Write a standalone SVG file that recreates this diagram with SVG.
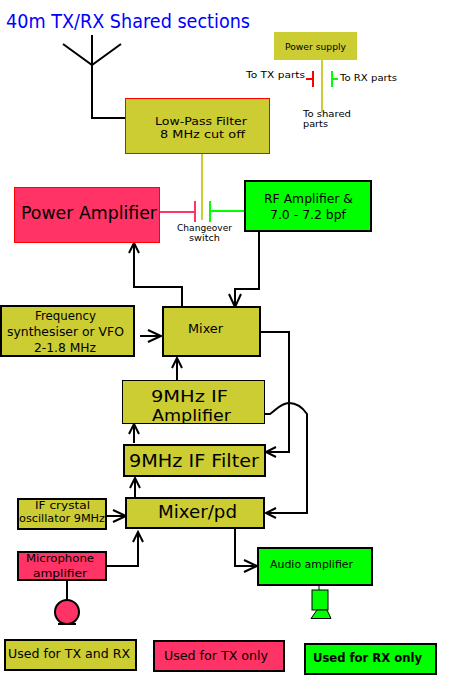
<svg xmlns="http://www.w3.org/2000/svg" width="450" height="700" viewBox="0 0 450 700">
<style>
text{font-family:"DejaVu Sans","Open Sans",sans-serif;fill:#000}
.olive{fill:#cccc33}.pink{fill:#ff3366}.green{fill:#00ff00}
.k1{stroke:#000;stroke-width:1}.k2{stroke:#000;stroke-width:2}.r1{stroke:#ff0000;stroke-width:1}
.w{fill:none;stroke:#000;stroke-width:2}
.a{marker-end:url(#big)}.b{marker-end:url(#small)}
.ol{fill:none;stroke:#cccc33;stroke-width:2}.rd{fill:none;stroke:#ff0000;stroke-width:2}.pk{fill:none;stroke:#ff3366;stroke-width:2}.gn{fill:none;stroke:#00ff00;stroke-width:2}
</style>
<defs>
<marker id="big" markerUnits="userSpaceOnUse" markerWidth="18" markerHeight="18" refX="14" refY="8" orient="auto" overflow="visible"><path d="M1 2L14 8L1 14" fill="none" stroke="#000" stroke-width="2"/></marker>
<marker id="small" markerUnits="userSpaceOnUse" markerWidth="14" markerHeight="14" refX="11" refY="7" orient="auto" overflow="visible"><path d="M1 2L11 7L1 12" fill="none" stroke="#000" stroke-width="2"/></marker>
</defs>
<rect width="450" height="700" fill="#fff"/>
<text id="title" x="6" y="28" font-size="19" textLength="244" lengthAdjust="spacingAndGlyphs" style="fill:#0000ff">40m TX/RX Shared sections</text>
<g id="connectors">
<path class="w" d="M92 35V118H125M63 44L92 65L121 44"/>
<path class="ol" d="M202 153V220"/>
<path class="ol" d="M322 60V112"/>
<path class="rd" d="M313 71V87M313 79H306"/>
<path class="gn" d="M332 71V87M332 79H338"/>
<path class="pk" d="M159 212H195M195 201V222"/>
<path class="gn" d="M245 211H210M210 201V222"/>
<path class="w a" d="M259 231V289H235V307"/>
<path class="w b" d="M182 307V287H134V243"/>
<path class="w a" d="M140 336H161"/>
<path class="w b" d="M177 380V358"/>
<path class="w b" d="M134 443V424"/>
<path class="w b" d="M135 498V478"/>
<path class="w b" d="M260 332H289V452H266"/>
<path class="w b" d="M264 414H270C276 410 281 403 289 403C298 403 303 408 307 414V513H266"/>
<path class="w a" d="M106 516H126"/>
<path class="w b" d="M106 566H138V532"/>
<path class="w a" d="M235 528V566H257"/>
<path class="w" d="M67 580V600"/>
<path class="k1" d="M319 585V590"/>
</g>
<g id="lpf"><rect class="olive r1" x="125.500" y="98.500" width="144" height="55"/><text x="155" y="125" font-size="11" textLength="92" lengthAdjust="spacingAndGlyphs">Low-Pass Filter</text><text x="160" y="138" font-size="11" textLength="85" lengthAdjust="spacingAndGlyphs">8 MHz cut off</text></g>
<g id="power-supply"><rect class="olive" x="274" y="32" width="83" height="28"/><text x="285" y="50" font-size="9.500" textLength="61" lengthAdjust="spacingAndGlyphs">Power supply</text></g>
<g id="labels">
<text x="246" y="78" font-size="9.500" textLength="59" lengthAdjust="spacingAndGlyphs">To TX parts</text>
<text x="340" y="81" font-size="9.500" textLength="57" lengthAdjust="spacingAndGlyphs">To RX parts</text>
<text x="303" y="117" font-size="8.500" textLength="48" lengthAdjust="spacingAndGlyphs">To shared</text>
<text x="303" y="127" font-size="8.500" textLength="25" lengthAdjust="spacingAndGlyphs">parts</text>
<text x="177" y="231" font-size="8.500" textLength="55" lengthAdjust="spacingAndGlyphs">Changeover</text>
<text x="189" y="241" font-size="8.500" textLength="31" lengthAdjust="spacingAndGlyphs">switch</text>
</g>
<g id="power-amp"><rect class="pink r1" x="14.500" y="187.500" width="145" height="55"/><text x="21" y="219" font-size="17" textLength="136" lengthAdjust="spacingAndGlyphs">Power Amplifier</text></g>
<g id="rf-amp"><rect class="green k2" x="245" y="181" width="126" height="50"/><text x="264" y="203" font-size="12.500" textLength="89" lengthAdjust="spacingAndGlyphs">RF Amplifier &amp;</text><text x="270" y="219" font-size="12.500" textLength="76" lengthAdjust="spacingAndGlyphs">7.0 - 7.2 bpf</text></g>
<g id="mixer"><rect class="olive k2" x="163" y="307" width="97" height="49"/><text x="188" y="333" font-size="12" textLength="35" lengthAdjust="spacingAndGlyphs">Mixer</text></g>
<g id="vfo"><rect class="olive k2" x="1" y="306" width="133" height="50"/><text x="35" y="320" font-size="12" textLength="61" lengthAdjust="spacingAndGlyphs">Frequency</text><text x="7" y="336" font-size="12" textLength="117" lengthAdjust="spacingAndGlyphs">synthesiser or VFO</text><text x="34" y="352" font-size="12" textLength="62" lengthAdjust="spacingAndGlyphs">2-1.8 MHz</text></g>
<g id="if-amp"><rect class="olive k1" x="122.500" y="380.500" width="142" height="43"/><text x="151" y="402" font-size="16" textLength="77" lengthAdjust="spacingAndGlyphs">9MHz IF</text><text x="152" y="421" font-size="16" textLength="79" lengthAdjust="spacingAndGlyphs">Amplifier</text></g>
<g id="if-filter"><rect class="olive k2" x="124" y="445" width="141" height="31"/><text x="129" y="467" font-size="17" textLength="130" lengthAdjust="spacingAndGlyphs">9MHz IF Filter</text></g>
<g id="mixer-pd"><rect class="olive k2" x="126" y="498" width="138" height="30"/><text x="158" y="518" font-size="17" textLength="79" lengthAdjust="spacingAndGlyphs">Mixer/pd</text></g>
<g id="crystal"><rect class="olive k2" x="18" y="499" width="88" height="30"/><text x="35" y="509" font-size="10" textLength="55" lengthAdjust="spacingAndGlyphs">IF crystal</text><text x="19" y="522" font-size="10" textLength="86" lengthAdjust="spacingAndGlyphs">oscillator 9MHz</text></g>
<g id="mic-amp"><rect class="pink k2" x="18" y="552" width="88" height="28"/><text x="26" y="562" font-size="10.500" textLength="68" lengthAdjust="spacingAndGlyphs">Microphone</text><text x="33" y="577" font-size="10.500" textLength="54" lengthAdjust="spacingAndGlyphs">amplifier</text></g>
<g id="microphone"><circle class="pink k2" cx="67" cy="612" r="12"/><path class="k2" d="M58 624H76"/></g>
<g id="audio-amp"><rect class="green k2" x="258" y="548" width="114" height="37"/><text x="270" y="568" font-size="10.500" textLength="83" lengthAdjust="spacingAndGlyphs">Audio amplifier</text></g>
<g id="speaker"><rect class="green k1" x="312" y="590" width="16" height="20"/><path class="green k1" d="M317 610H327L331 618.500H311Z"/></g>
<g id="legend-both"><rect class="olive k2" x="5" y="640" width="131" height="30"/><text x="8" y="658" font-size="12" textLength="122" lengthAdjust="spacingAndGlyphs">Used for TX and RX</text></g>
<g id="legend-tx"><rect class="pink k2" x="154" y="641" width="130" height="30"/><text x="164" y="660" font-size="12" textLength="104" lengthAdjust="spacingAndGlyphs">Used for TX only</text></g>
<g id="legend-rx"><rect class="green k2" x="305" y="644" width="131" height="30"/><text x="313" y="662" font-size="12" font-weight="bold" textLength="109" lengthAdjust="spacingAndGlyphs">Used for RX only</text></g>
</svg>
